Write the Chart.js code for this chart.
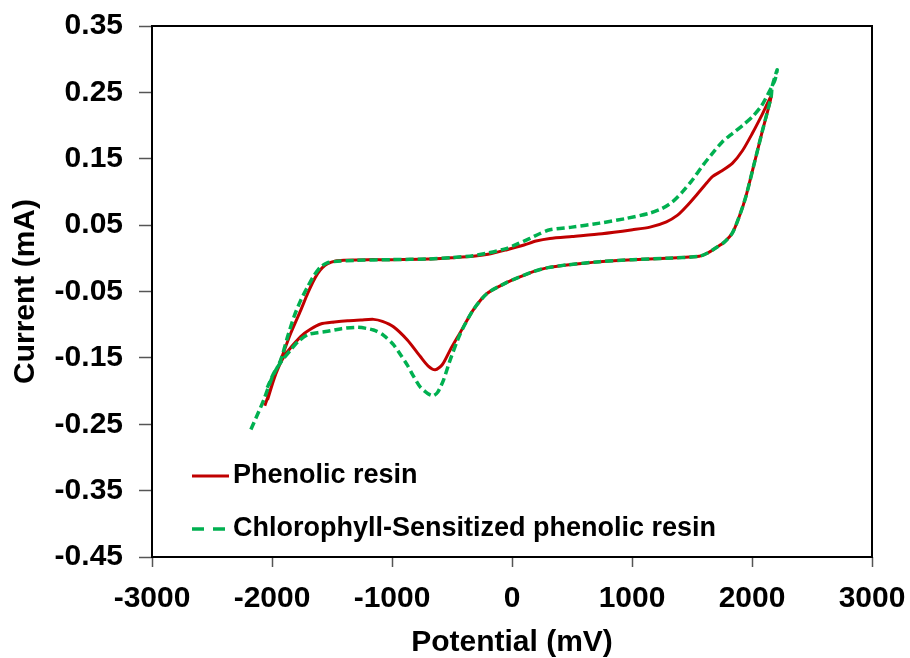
<!DOCTYPE html>
<html>
<head>
<meta charset="utf-8">
<script src="https://cdn.jsdelivr.net/npm/chart.js@4"></script>
<style>
  body { margin: 0; background: #fff; }
  #wrap { width: 910px; height: 658px; position: relative; }
</style>
</head>
<body>
<div id="wrap"><canvas id="cvChart"></canvas></div>
<script>
// tick labels
const xTickValues = [-3000, -2000, -1000, 0, 1000, 2000, 3000];
const yTickValues = [-0.45, -0.35, -0.25, -0.15, -0.05, 0.05, 0.15, 0.25, 0.35];

// Phenolic resin: one CV loop, forward sweep then return sweep
const resinPotential = [
  -2060, -2010, -1950, -1844, -1760, -1703, -1660, -1620, -1580, -1536, -1470, -1400, -1200, -1000,
  -700, -500, -324, -200, -42, 100, 200, 316, 500, 750, 1005, 1150, 1287, 1380, 1453, 1550, 1620,
  1670, 1750, 1836, 1920, 2002, 2080, 2160,
  2088, 2019, 1949, 1894, 1836, 1767, 1700, 1630, 1560, 1287, 1005, 731, 457, 300, 177, 40, -50,
  -208, -324, -432, -515, -580, -640, -700, -764, -872, -988, -1080, -1154, -1260, -1370, -1480,
  -1595, -1680, -1761, -1900, -1970, -2037
];
const resinCurrent = [
  -0.222, -0.196, -0.165, -0.113, -0.078, -0.053, -0.036, -0.023, -0.014, -0.008, -0.004, -0.003, -0.002, -0.002,
  -0.001, 0.001, 0.003, 0.006, 0.013, 0.020, 0.026, 0.030, 0.033, 0.037, 0.043, 0.047, 0.055, 0.065, 0.078, 0.098, 0.113,
  0.123, 0.132, 0.143, 0.162, 0.188, 0.215, 0.244,
  0.193, 0.143, 0.093, 0.063, 0.038, 0.024, 0.016, 0.008, 0.003, 0.000, -0.002, -0.005, -0.010, -0.014, -0.020, -0.030, -0.037,
  -0.053, -0.078, -0.112, -0.138, -0.160, -0.168, -0.162, -0.148, -0.123, -0.103, -0.095, -0.092, -0.093, -0.094, -0.096,
  -0.099, -0.107, -0.118, -0.148, -0.175, -0.213
];

// Chlorophyll-sensitized phenolic resin
const chloroPotential = [
  -2176, -2120, -2068, -2000, -1927, -1870, -1817, -1760, -1703, -1650, -1595, -1540, -1484, -1300, -1000,
  -700, -500, -324, -200, -42, 50, 150, 230, 316, 500, 731, 950, 1146, 1250, 1337, 1420, 1503, 1590,
  1670, 1750, 1836, 1920, 2002, 2080, 2143, 2190, 2210,
  2168, 2160, 2088, 2019, 1949, 1894, 1836, 1767, 1700, 1630, 1560, 1287, 1005, 731, 457, 300, 177, 40, -50,
  -208, -324, -432, -515, -570, -620, -656, -700, -764, -820, -872, -930, -988, -1070, -1154, -1287, -1420,
  -1536, -1620, -1703, -1780, -1844, -1920, -1985, -2040
];
const chloroCurrent = [
  -0.258, -0.235, -0.213, -0.180, -0.153, -0.118, -0.088, -0.063, -0.043, -0.026, -0.013, -0.007, -0.005, -0.003, -0.002,
  -0.001, 0.001, 0.004, 0.008, 0.015, 0.022, 0.030, 0.037, 0.043, 0.047, 0.053, 0.060, 0.068, 0.075, 0.085, 0.100, 0.118, 0.140,
  0.158, 0.175, 0.188, 0.200, 0.213, 0.230, 0.251, 0.268, 0.284,
  0.259, 0.244, 0.193, 0.143, 0.093, 0.063, 0.038, 0.024, 0.016, 0.008, 0.003, 0.000, -0.002, -0.005, -0.010, -0.014, -0.020, -0.030, -0.037,
  -0.053, -0.078, -0.114, -0.153, -0.183, -0.202, -0.207, -0.204, -0.194, -0.178, -0.161, -0.145, -0.130, -0.116, -0.108, -0.104, -0.106,
  -0.110, -0.112, -0.115, -0.125, -0.138, -0.155, -0.173, -0.195
];

const seriesNames = ['Phenolic resin', 'Chlorophyll-Sensitized phenolic resin'];

function toPoints(xs, ys) {
  return xs.map((x, i) => ({ x: x, y: ys[i] }));
}

const FONT = '"Liberation Sans", Arial, sans-serif';

// frame around plot area + legend inside the plot
const framePlugin = {
  id: 'frame',
  afterDraw(chart) {
    const ctx = chart.ctx;
    const a = chart.chartArea;
    ctx.save();
    ctx.strokeStyle = '#000';
    ctx.lineWidth = 2;
    ctx.strokeRect(a.left, a.top, a.right - a.left, a.bottom - a.top);

    // legend
    const lx = a.left + 40;
    ctx.font = 'bold 27px ' + FONT;
    ctx.fillStyle = '#000';
    ctx.textBaseline = 'middle';

    ctx.strokeStyle = '#C00000';
    ctx.lineWidth = 3;
    ctx.beginPath();
    ctx.moveTo(lx, 476);
    ctx.lineTo(lx + 37, 476);
    ctx.stroke();
    ctx.fillText(seriesNames[0], lx + 41, 476);

    ctx.strokeStyle = '#00B050';
    ctx.lineWidth = 3.5;
    ctx.setLineDash([12, 9]);
    ctx.beginPath();
    ctx.moveTo(lx, 529);
    ctx.lineTo(lx + 37, 529);
    ctx.stroke();
    ctx.setLineDash([]);
    ctx.fillText(seriesNames[1], lx + 41, 529);
    ctx.restore();
  }
};

const ctx = document.getElementById('cvChart').getContext('2d');
const cvChart = new Chart(ctx, {
  type: 'scatter',
  data: {
    datasets: [{
      label: seriesNames[0],
      data: toPoints(resinPotential, resinCurrent),
      showLine: true,
      borderColor: '#C00000',
      borderWidth: 3,
      pointRadius: 0,
      tension: 0.25,
      order: 2
    }, {
      label: seriesNames[1],
      data: toPoints(chloroPotential, chloroCurrent),
      showLine: true,
      borderColor: '#00B050',
      borderWidth: 3.5,
      borderDash: [8, 4],
      pointRadius: 0,
      tension: 0.25,
      order: 1
    }]
  },
  options: {
    responsive: true,
    maintainAspectRatio: false,
    animation: false,
    layout: { padding: { left: 0, top: 26, right: 38, bottom: 0 } },
    plugins: { legend: { display: false }, tooltip: { enabled: false } },
    scales: {
      x: {
        type: 'linear',
        min: -3000,
        max: 3000,
        afterBuildTicks: s => { s.ticks = xTickValues.map(v => ({ value: v })); },
        afterFit: s => { s.height = 101; s.paddingLeft = 0; s.paddingRight = 0; },
        border: { display: false },
        grid: { drawOnChartArea: false, drawTicks: true, tickLength: 10, tickColor: '#555', tickWidth: 1.5 },
        ticks: {
          color: '#000',
          padding: 14,
          maxRotation: 0,
          callback: v => String(v),
          font: { family: FONT, size: 30, weight: 'bold' }
        },
        title: {
          display: true,
          text: 'Potential (mV)',
          color: '#000',
          padding: { top: 0, bottom: 0 },
          font: { family: FONT, size: 30, weight: 'bold', lineHeight: 1.0 }
        }
      },
      y: {
        type: 'linear',
        min: -0.45,
        max: 0.35,
        afterBuildTicks: s => { s.ticks = yTickValues.map(v => ({ value: v })); },
        afterFit: s => { s.width = 152; s.paddingTop = 0; s.paddingBottom = 0; },
        border: { display: false },
        grid: { drawOnChartArea: false, drawTicks: true, tickLength: 13, tickColor: '#555', tickWidth: 1.5 },
        ticks: {
          color: '#000',
          padding: 16,
          callback: v => v.toFixed(2),
          font: { family: FONT, size: 30, weight: 'bold' }
        },
        title: {
          display: true,
          text: 'Current (mA)',
          color: '#000',
          padding: { top: 8, bottom: 0 },
          font: { family: FONT, size: 30, weight: 'bold' }
        }
      }
    }
  },
  plugins: [framePlugin]
});
</script>
</body>
</html>
